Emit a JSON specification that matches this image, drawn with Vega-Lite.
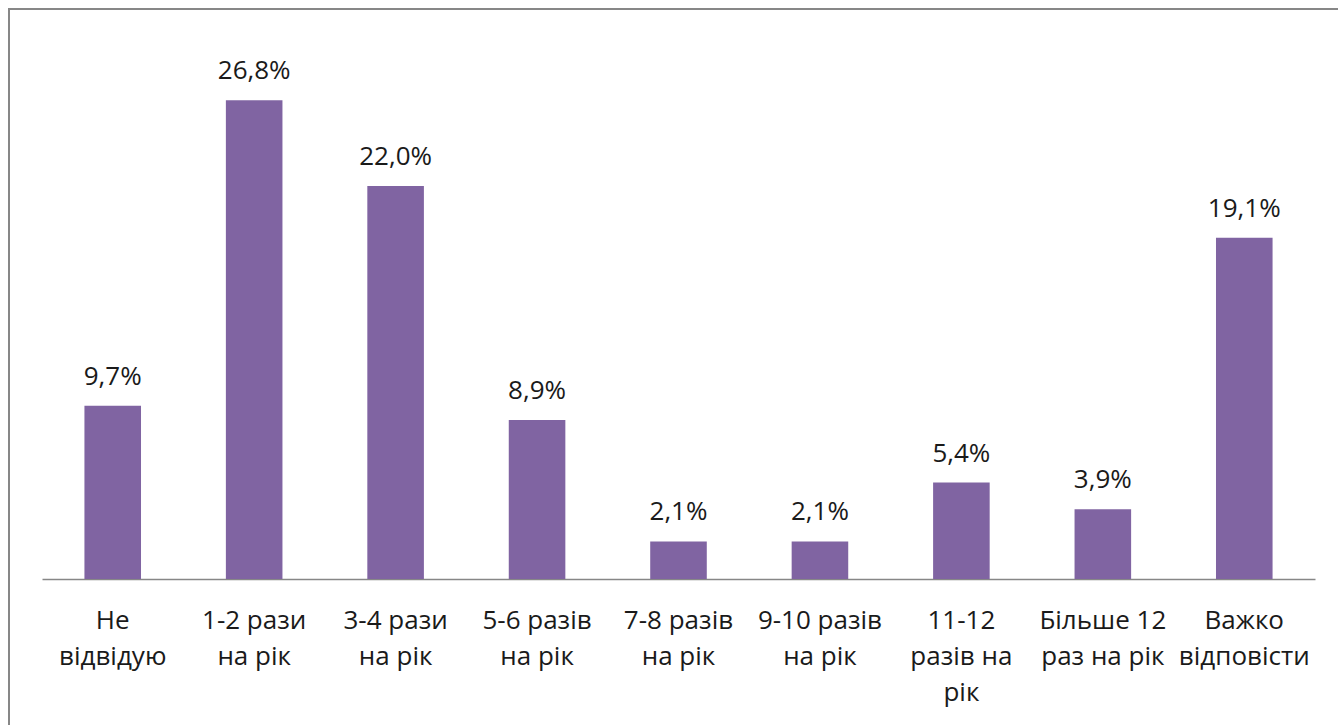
{
  "$schema": "https://vega.github.io/schema/vega-lite/v6.json",
  "width": 1332,
  "height": 719,
  "padding": {"left": 9, "top": 9, "right": 0, "bottom": 0},
  "autosize": {"type": "none"},
  "background": "white",
  "config": {
    "locale": {"number": {"decimal": ",", "thousands": " ", "grouping": [3], "currency": ["", " ₴"]}},
    "view": {"stroke": "#878787", "strokeWidth": 2},
    "font": "Open Sans"
  },
  "data": {
    "values": [
      {"category": "Не|відвідую", "share": 0.097},
      {"category": "1-2 рази|на рік", "share": 0.268},
      {"category": "3-4 рази|на рік", "share": 0.220},
      {"category": "5-6 разів|на рік", "share": 0.089},
      {"category": "7-8 разів|на рік", "share": 0.021},
      {"category": "9-10 разів|на рік", "share": 0.021},
      {"category": "11-12|разів на|рік", "share": 0.054},
      {"category": "Більше 12|раз на рік", "share": 0.039},
      {"category": "Важко|відповісти", "share": 0.191}
    ]
  },
  "encoding": {
    "x": {
      "field": "category",
      "type": "nominal",
      "sort": null,
      "scale": {"range": [33, 1306], "paddingInner": 0.6, "paddingOuter": 0.3},
      "axis": {
        "title": null,
        "offset": -149,
        "labelAngle": 0,
        "labelExpr": "split(datum.label, '|')",
        "labelFont": "Open Sans",
        "labelFontSize": 26,
        "labelColor": "#1a1a1a",
        "labelLineHeight": 36,
        "labelPadding": 28,
        "labelBaseline": "top",
        "labelAlign": "center",
        "ticks": false,
        "tickSize": 0,
        "domainColor": "#878787",
        "domainWidth": 1.5,
        "grid": false,
        "labelOverlap": false,
        "labelBound": false,
        "labelFlush": false
      }
    },
    "y": {
      "field": "share",
      "type": "quantitative",
      "scale": {"domain": [0, 0.3], "range": [570, 34], "nice": false, "zero": true},
      "axis": null
    }
  },
  "layer": [
    {"mark": {"type": "bar", "color": "#8064A2"}},
    {
      "mark": {"type": "text", "baseline": "alphabetic", "dy": -21, "fontSize": 26, "font": "Open Sans", "color": "#1a1a1a"},
      "encoding": {"text": {"field": "share", "type": "quantitative", "format": ".1%"}}
    }
  ]
}
